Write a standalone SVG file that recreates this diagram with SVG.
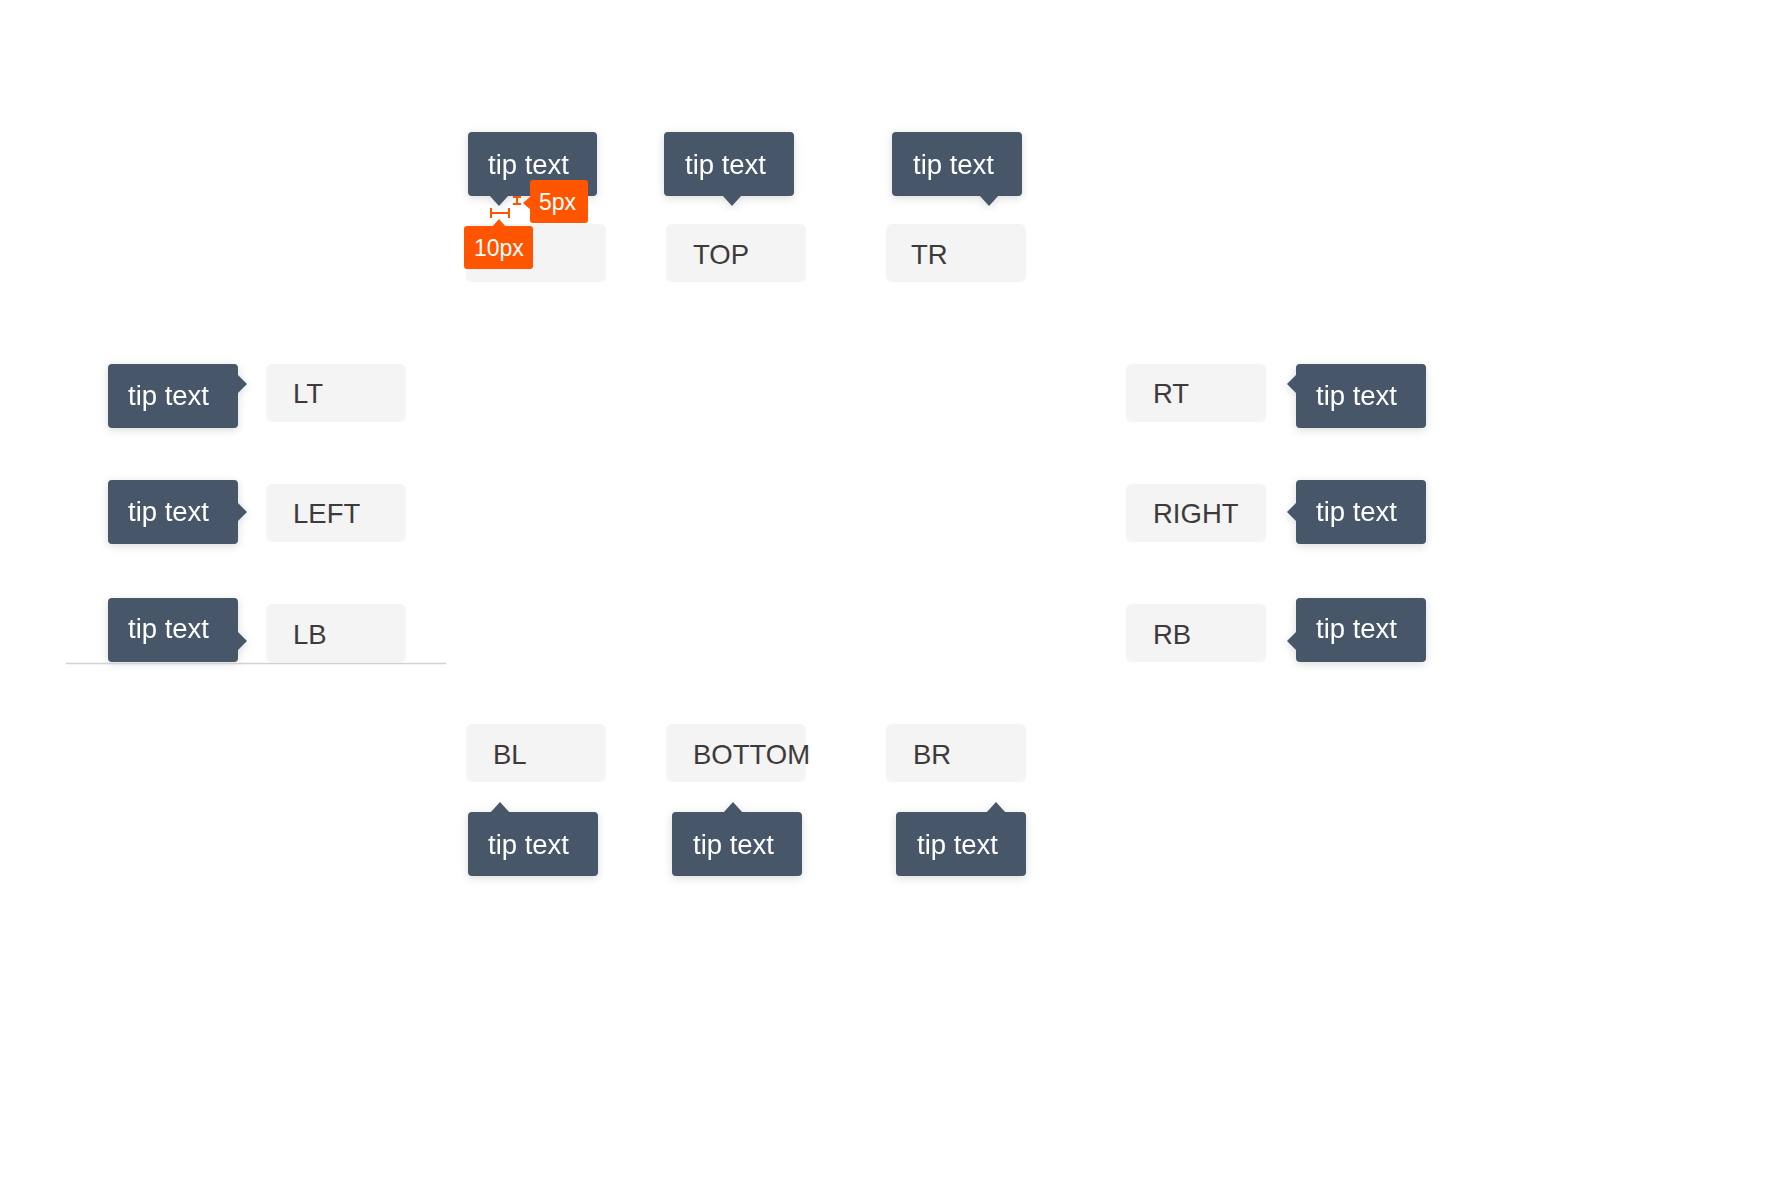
<svg xmlns="http://www.w3.org/2000/svg" width="1776" height="1186" viewBox="0 0 1776 1186">
<defs>
<filter id="sh" x="-20%" y="-30%" width="140%" height="170%">
<feDropShadow dx="0" dy="2" stdDeviation="4" flood-color="#000" flood-opacity="0.14"/>
</filter>
</defs>
<style>
.tip{fill:#475669}
.tipg{filter:url(#sh)}
.tt{font-family:"Liberation Sans",Arial,sans-serif;font-size:27.5px;fill:#ffffff}
.btn{fill:#f4f4f4}
.bt{font-family:"Liberation Sans",Arial,sans-serif;font-size:27.5px;fill:#3f3a3a}
.or{fill:#ff5500}
.ot{font-family:"Liberation Sans",Arial,sans-serif;font-size:23px;fill:#ffffff}
.ms{stroke:#ff5500;stroke-width:2;fill:none}
</style>
<rect width="1776" height="1186" fill="#ffffff"/>

<!-- top row -->
<g id="btn-tl"><rect class="btn" x="466" y="224" width="140" height="58" rx="6"/></g>
<g id="tip-tl" class="tipg"><rect class="tip" x="468" y="132" width="129" height="64" rx="4"/><polygon class="tip" points="489,195 509,195 499,206"/><text class="tt" x="488" y="174">tip text</text></g>

<g id="btn-top"><rect class="btn" x="666" y="224" width="140" height="58" rx="6"/><text class="bt" x="693" y="264">TOP</text></g>
<g id="tip-top" class="tipg"><rect class="tip" x="664" y="132" width="130" height="64" rx="4"/><polygon class="tip" points="722,195 742,195 732,206"/><text class="tt" x="685" y="174">tip text</text></g>

<g id="btn-tr"><rect class="btn" x="886" y="224" width="140" height="58" rx="6"/><text class="bt" x="911" y="264">TR</text></g>
<g id="tip-tr" class="tipg"><rect class="tip" x="892" y="132" width="130" height="64" rx="4"/><polygon class="tip" points="979,195 999,195 989,206"/><text class="tt" x="913" y="174">tip text</text></g>

<!-- left column -->
<g id="tip-lt" class="tipg"><rect class="tip" x="108" y="364" width="130" height="64" rx="4"/><polygon class="tip" points="237,374 237,394 247,384"/><text class="tt" x="128" y="405">tip text</text></g>
<g id="btn-lt"><rect class="btn" x="266" y="364" width="140" height="58" rx="6"/><text class="bt" x="293" y="403">LT</text></g>

<g id="tip-left" class="tipg"><rect class="tip" x="108" y="480" width="130" height="64" rx="4"/><polygon class="tip" points="237,502 237,522 247,512"/><text class="tt" x="128" y="521">tip text</text></g>
<g id="btn-left"><rect class="btn" x="266" y="484" width="140" height="58" rx="6"/><text class="bt" x="293" y="523">LEFT</text></g>

<g id="tip-lb" class="tipg"><rect class="tip" x="108" y="598" width="130" height="64" rx="4"/><polygon class="tip" points="237,631 237,651 247,641"/><text class="tt" x="128" y="638">tip text</text></g>
<g id="btn-lb"><rect class="btn" x="266" y="604" width="140" height="58" rx="6"/><text class="bt" x="293" y="644">LB</text></g>

<g id="baseline"><line x1="66" y1="663.5" x2="446" y2="663.5" stroke="#d2d2d2" stroke-width="1.5"/></g>

<!-- right column -->
<g id="btn-rt"><rect class="btn" x="1126" y="364" width="140" height="58" rx="6"/><text class="bt" x="1153" y="403">RT</text></g>
<g id="tip-rt" class="tipg"><rect class="tip" x="1296" y="364" width="130" height="64" rx="4"/><polygon class="tip" points="1297,374 1297,394 1287,384"/><text class="tt" x="1316" y="405">tip text</text></g>

<g id="btn-right"><rect class="btn" x="1126" y="484" width="140" height="58" rx="6"/><text class="bt" x="1153" y="523">RIGHT</text></g>
<g id="tip-right" class="tipg"><rect class="tip" x="1296" y="480" width="130" height="64" rx="4"/><polygon class="tip" points="1297,502 1297,522 1287,512"/><text class="tt" x="1316" y="521">tip text</text></g>

<g id="btn-rb"><rect class="btn" x="1126" y="604" width="140" height="58" rx="6"/><text class="bt" x="1153" y="644">RB</text></g>
<g id="tip-rb" class="tipg"><rect class="tip" x="1296" y="598" width="130" height="64" rx="4"/><polygon class="tip" points="1297,631 1297,651 1287,641"/><text class="tt" x="1316" y="638">tip text</text></g>

<!-- bottom row -->
<g id="btn-bl"><rect class="btn" x="466" y="724" width="140" height="58" rx="6"/><text class="bt" x="493" y="764">BL</text></g>
<g id="tip-bl" class="tipg"><rect class="tip" x="468" y="812" width="130" height="64" rx="4"/><polygon class="tip" points="490,813 510,813 500,802"/><text class="tt" x="488" y="854">tip text</text></g>

<g id="btn-bottom"><rect class="btn" x="666" y="724" width="140" height="58" rx="6"/><text class="bt" x="693" y="764">BOTTOM</text></g>
<g id="tip-bottom" class="tipg"><rect class="tip" x="672" y="812" width="130" height="64" rx="4"/><polygon class="tip" points="723,813 743,813 733,802"/><text class="tt" x="693" y="854">tip text</text></g>

<g id="btn-br"><rect class="btn" x="886" y="724" width="140" height="58" rx="6"/><text class="bt" x="913" y="764">BR</text></g>
<g id="tip-br" class="tipg"><rect class="tip" x="896" y="812" width="130" height="64" rx="4"/><polygon class="tip" points="986,813 1006,813 996,802"/><text class="tt" x="917" y="854">tip text</text></g>

<!-- annotations -->
<g id="connectors">
<path class="ms" d="M491,213 H509 M491,208 V218 M509,208 V218"/>
<path class="ms" d="M517,197 V204 M513,197 H521 M513,204 H521"/>
</g>
<g id="badge-5px"><rect class="or" x="530" y="180" width="58" height="43" rx="3"/><polygon class="or" points="531,196 531,210 523,203"/><text class="ot" x="539" y="210">5px</text></g>
<g id="badge-10px"><rect class="or" x="464" y="226" width="69" height="43" rx="3"/><polygon class="or" points="492,227 506,227 499,219"/><text class="ot" x="474" y="256">10px</text></g>
</svg>
